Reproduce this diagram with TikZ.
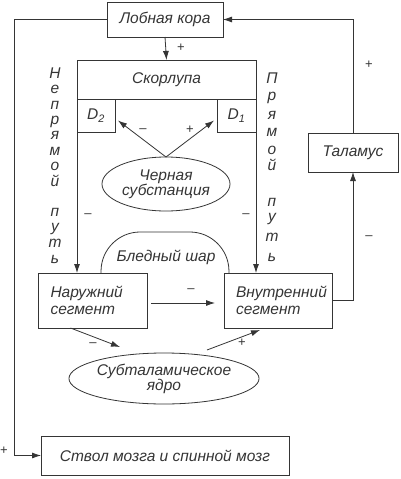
\documentclass[tikz,border=0pt]{standalone}
\usepackage{fontspec}
\setmainfont{Liberation Sans}
\usetikzlibrary{arrows.meta,shapes.geometric}
\definecolor{ink}{HTML}{353535}
\begin{document}
\begin{tikzpicture}[x=1pt, y=-1pt, line width=0.8pt,
    box/.style={draw=ink, rectangle, inner sep=0pt, outer sep=0pt, text=ink, font=\itshape\fontsize{15.5}{17}\selectfont},
    segbox/.style={box, minimum width=#1, minimum height=55pt, text width=84pt, align=left},
    oval/.style={box, ellipse, align=center},
    arr/.style={draw=ink, -{Latex[length=9pt,width=6pt]}},
    sig/.style={text=ink, font=\fontsize{13}{13}\selectfont, inner sep=0pt},
    vert/.style={text=ink, font=\itshape\fontsize{15.5}{17}\selectfont, anchor=base, inner sep=0pt}]
    \useasboundingbox[fill=white] (0,0) rectangle (400,479);
    \node[box, minimum width=116pt, minimum height=35pt] (lob) at (165,19.5) {Лобная кора};
    \node[box, minimum width=179pt, minimum height=39pt] (skorl) at (166.5,79.5) {Скорлупа};
    \node[box, minimum width=38pt, minimum height=33pt] (dtwo) at (96,115.5) {D\textsubscript{2}};
    \node[box, minimum width=39pt, minimum height=33pt] (done) at (236.5,115.5) {D\textsubscript{1}};
    \node[oval, minimum width=128pt, minimum height=54pt] (chern) at (166,184) {Черная\\[-2pt]субстанция};
    \node[segbox=109pt] (naruzh) at (92.5,300.5) {Наружний\\сегмент};
    \node[segbox=108pt] (vnutr) at (278,300.5) {Внутренний\\сегмент};
    \node[box, minimum width=90pt, minimum height=39pt] (talam) at (353,152.5) {Таламус};
    \node[oval, minimum width=172pt, minimum height=51pt] (subtal) at (164,378.5) {Субталамическое\\[-2pt]ядро};
    \node[box, minimum width=248pt, minimum height=39pt] (stvol) at (165,455.5) {Ствол мозга и спинной мозг};
    \draw[draw=ink, rounded corners=38pt] (101,273) -- (102,232) -- (228,232) -- (229,273);
    \node[text=ink, font=\itshape\fontsize{15.5}{17}\selectfont] (bled) at (166,257) {Бледный шар};
    \coordinate (sn1) at (120,347);
    \coordinate (sn2) at (207,350);
    \draw[arr] (lob.south) -- (skorl.north);
    \draw[arr] (lob.west) -- ++(-93,0) |- (stvol.west);
    \draw[arr] (talam.north) |- (lob.east);
    \draw[arr] (chern.north) -- ([yshift=-5pt, xshift=3pt]dtwo.east);
    \draw[arr] (chern.north) -- ([yshift=-5pt, xshift=-3pt]done.west);
    \draw[arr] (dtwo.south west) -- (dtwo.south west |- naruzh.north);
    \draw[arr] (done.south east) -- (done.south east |- vnutr.north);
    \draw[arr, shorten <=4pt, shorten >=9pt] ([yshift=-2.5pt]naruzh.east) -- ([yshift=-2.5pt]vnutr.west);
    \draw[arr] (vnutr.east) -| (talam.south);
    \draw[arr] ([xshift=-22pt]naruzh.south) -- (sn1);
    \draw[arr] (sn2) -- ([xshift=-18pt, yshift=-2pt]vnutr.south);
    \foreach \ch/\yy [count=\i] in {Н/78, е/93, п/109, р/124, я/139, м/155, о/170, й/186, п/216, у/231, т/247, ь/263}
      \node[vert] (lv\i) at (55,\yy) {\ch};
    \foreach \ch/\yy [count=\i] in {П/83, р/100, я/119, м/136, о/154, й/170, п/206, у/221, т/241, ь/261}
      \node[vert] (rv\i) at (272,\yy) {\ch};
    \node[sig] (p1) at (181,48) {+};
    \node[sig] (p2) at (4,451) {+};
    \node[sig] (p3) at (369,65) {+};
    \node[sig] (p4) at (190,130) {+};
    \node[sig] (p5) at (242,343) {+};
    \node[sig] (m1) at (143,131) {–};
    \node[sig] (m2) at (88,216) {–};
    \node[sig] (m3) at (246,216) {–};
    \node[sig] (m4) at (191,291) {–};
    \node[sig] (m5) at (369,238) {–};
    \node[sig] (m6) at (93,345) {–};
\end{tikzpicture}
\end{document}
